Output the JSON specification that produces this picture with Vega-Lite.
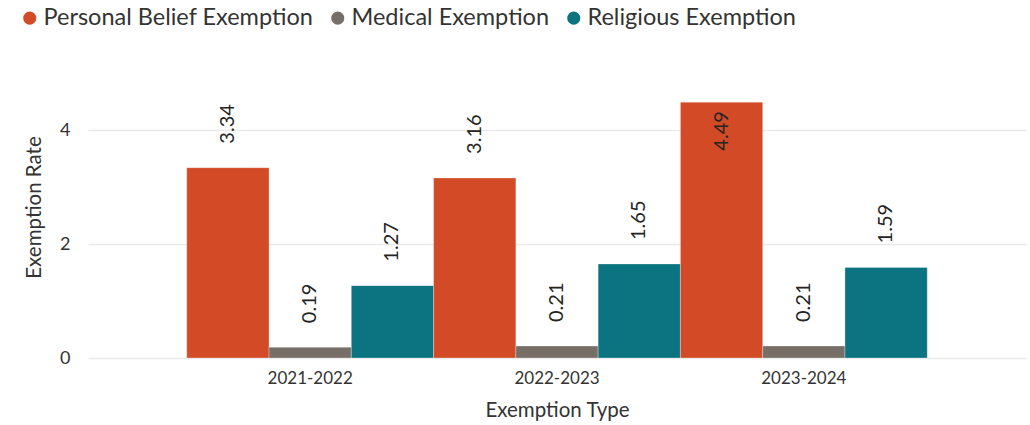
{
  "$schema": "https://vega.github.io/schema/vega-lite/v6.json",
  "autosize": "none",
  "width": 938,
  "height": 302,
  "padding": {"left": 88, "top": 56, "right": 4, "bottom": 67},
  "background": "white",
  "config": {
    "font": "Lato",
    "view": {"stroke": null},
    "axis": {"labelFont": "Lato", "titleFont": "Lato", "titleFontWeight": "normal"}
  },
  "data": {
    "values": [
      {"year": "2021-2022", "type": "Personal Belief Exemption", "rate": 3.34},
      {"year": "2021-2022", "type": "Medical Exemption", "rate": 0.19},
      {"year": "2021-2022", "type": "Religious Exemption", "rate": 1.27},
      {"year": "2022-2023", "type": "Personal Belief Exemption", "rate": 3.16},
      {"year": "2022-2023", "type": "Medical Exemption", "rate": 0.21},
      {"year": "2022-2023", "type": "Religious Exemption", "rate": 1.65},
      {"year": "2023-2024", "type": "Personal Belief Exemption", "rate": 4.49},
      {"year": "2023-2024", "type": "Medical Exemption", "rate": 0.21},
      {"year": "2023-2024", "type": "Religious Exemption", "rate": 1.59}
    ]
  },
  "encoding": {
    "x": {
      "field": "year", "type": "nominal",
      "scale": {"paddingInner": 0, "paddingOuter": 0.4},
      "axis": {
        "title": "Exemption Type", "labelAngle": 0, "labelFontSize": 17, "labelColor": "#333333",
        "titleFontSize": 20.5, "titleColor": "#333333", "labelPadding": 12, "titlePadding": 14,
        "ticks": false, "domain": false
      }
    },
    "xOffset": {
      "field": "type", "type": "nominal",
      "sort": ["Personal Belief Exemption", "Medical Exemption", "Religious Exemption"],
      "scale": {"paddingInner": 0, "paddingOuter": 0}
    },
    "y": {
      "field": "rate", "type": "quantitative",
      "scale": {"domain": [0, 5.3], "nice": false},
      "axis": {
        "title": "Exemption Rate", "values": [0, 2, 4], "labelFontSize": 18, "labelColor": "#333333",
        "titleFontSize": 20.5, "titleColor": "#333333", "labelPadding": 18, "titlePadding": 15,
        "ticks": false, "domain": false, "gridColor": "#EAEAEA", "gridWidth": 1.5
      }
    }
  },
  "layer": [
    {
      "mark": {"type": "bar", "stroke": "white", "strokeWidth": 0.5, "strokeOpacity": 0.6},
      "encoding": {
        "color": {
          "field": "type", "type": "nominal",
          "sort": ["Personal Belief Exemption", "Medical Exemption", "Religious Exemption"],
          "scale": {
            "domain": ["Personal Belief Exemption", "Medical Exemption", "Religious Exemption"],
            "range": ["#D34A27", "#776F67", "#0B7480"]
          },
          "legend": {
            "title": null, "orient": "none", "direction": "horizontal",
            "legendX": -70, "legendY": -50,
            "symbolType": "circle", "symbolSize": 170, "symbolStrokeWidth": 0,
            "labelFontSize": 23.5, "labelColor": "#333333", "labelFont": "Lato",
            "labelOffset": 2, "columnPadding": 12, "labelLimit": 0
          }
        }
      }
    },
    {
      "transform": [{"filter": "datum.rate < 4.2"}],
      "mark": {"type": "text", "angle": -90, "align": "left", "baseline": "middle", "dx": 24, "fontSize": 20, "color": "#252423"},
      "encoding": {"text": {"field": "rate", "type": "quantitative", "format": ".2f"}}
    },
    {
      "transform": [{"filter": "datum.rate >= 4.2"}],
      "mark": {"type": "text", "angle": -90, "align": "right", "baseline": "middle", "dx": -9, "fontSize": 20, "color": "#252423"},
      "encoding": {"text": {"field": "rate", "type": "quantitative", "format": ".2f"}}
    }
  ]
}
